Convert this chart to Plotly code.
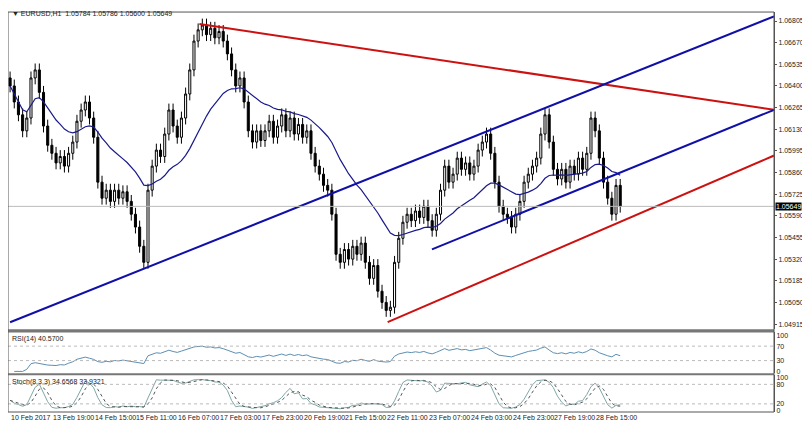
import numpy as np, pandas as pd
import plotly.graph_objects as go

closes = [1.0640,1.0630,1.0622,1.0612,1.0620,1.0645,1.0650,1.0636,1.0615,1.0603,
1.0598,1.0592,1.0596,1.0590,1.0598,1.0605,1.0618,1.0625,1.0630,1.0620,
1.0608,1.0580,1.0570,1.0575,1.0568,1.0575,1.0570,1.0574,1.0568,1.0560,
1.0552,1.0540,1.0530,1.0575,1.0590,1.0600,1.0596,1.0610,1.0625,1.0615,
1.0608,1.0620,1.0635,1.0650,1.0668,1.0675,1.0678,1.0672,1.0676,1.0670,
1.0674,1.0668,1.0660,1.0650,1.0640,1.0645,1.0630,1.0612,1.0605,1.0612,
1.0606,1.0612,1.0618,1.0608,1.0615,1.0622,1.0612,1.0620,1.0610,1.0616,
1.0608,1.0612,1.0598,1.0590,1.0585,1.0578,1.0575,1.0560,1.0535,1.0530,
1.0538,1.0532,1.0540,1.0535,1.0542,1.0530,1.0520,1.0528,1.0512,1.0505,
1.0500,1.0502,1.0530,1.0545,1.0555,1.0560,1.0556,1.0562,1.0558,1.0565,
1.0556,1.0550,1.0560,1.0575,1.0590,1.0580,1.0585,1.0595,1.0588,1.0592,
1.0585,1.0590,1.0600,1.0605,1.0610,1.0598,1.0580,1.0565,1.0560,1.0558,
1.0552,1.0560,1.0568,1.0580,1.0585,1.0590,1.0595,1.0610,1.0622,1.0605,
1.0588,1.0582,1.0588,1.0580,1.0590,1.0585,1.0595,1.0588,1.0598,1.0620,
1.0612,1.0595,1.0580,1.0570,1.0560,1.0578,1.0565]
first_open = 1.0645
wick = 0.0004
hours = [2 * i for i in range(len(closes))]

tick_hours = [0, 20, 40, 60, 80, 100, 120, 140, 160, 180, 200, 220, 240, 260, 280]
tick_labels = ["10 Feb 2017", "13 Feb 19:00", "14 Feb 15:00", "15 Feb 11:00", "16 Feb 07:00",
               "17 Feb 03:00", "17 Feb 23:00", "20 Feb 19:00", "21 Feb 15:00", "22 Feb 11:00",
               "23 Feb 07:00", "24 Feb 03:00", "24 Feb 23:00", "27 Feb 19:00", "28 Feb 15:00"]
price_ticks = [1.04915 + 0.00135 * k for k in range(15)]

red_top = ([90.6, 365.6], [1.06786, 1.06251])
red_bottom = ([180.7, 365.6], [1.04927, 1.05966])
blue_big = ([0, 365.6], [1.04926, 1.06834])
blue_mid = ([201.9, 365.6], [1.05381, 1.06251])

c = pd.Series(closes)
o = pd.Series([first_open] + closes[:-1])
h = np.maximum(o, c) + wick
l = np.minimum(o, c) - wick
ma = c.ewm(span=25, adjust=True).mean()
d = c.diff()
up = d.clip(lower=0).ewm(alpha=1/14, adjust=False).mean()
dn = (-d.clip(upper=0)).ewm(alpha=1/14, adjust=False).mean()
rsi = 100 - 100 / (1 + up / dn)
ll = pd.Series(l).rolling(8, min_periods=1).min()
hh = pd.Series(h).rolling(8, min_periods=1).max()
k = ((c - ll).rolling(3, min_periods=1).sum() / (hh - ll).rolling(3, min_periods=1).sum() * 100)
sig = k.rolling(3, min_periods=1).mean()

F = "Liberation Sans"
fig = go.Figure()
fig.add_trace(go.Candlestick(x=hours, open=o, high=h, low=l, close=c,
    increasing=dict(line=dict(color="black", width=1), fillcolor="white"),
    decreasing=dict(line=dict(color="black", width=1), fillcolor="black"),
    whiskerwidth=0, xaxis="x", yaxis="y"))
fig.add_trace(go.Scatter(x=hours, y=ma, mode="lines", line=dict(color="#1a1a8c", width=1.2)))
for (xs, ys), col in [(red_top, "#cc1111"), (red_bottom, "#cc1111"), (blue_big, "#1010a8"), (blue_mid, "#1010a8")]:
    fig.add_trace(go.Scatter(x=xs, y=ys, mode="lines", line=dict(color=col, width=2)))
fig.add_trace(go.Scatter(x=hours, y=rsi, mode="lines", line=dict(color="#5b8fb3", width=1), xaxis="x2", yaxis="y2"))
fig.add_trace(go.Scatter(x=hours, y=k, mode="lines", line=dict(color="#7fa6a6", width=1), xaxis="x3", yaxis="y3"))
fig.add_trace(go.Scatter(x=hours, y=sig, mode="lines", line=dict(color="#555555", width=1, dash="dot"), xaxis="x3", yaxis="y3"))

xr = [-1, 365.6]
ax = dict(range=xr, showgrid=False, zeroline=False, showticklabels=False, fixedrange=True,
          showline=False, rangeslider=dict(visible=False))
tf = dict(family=F, size=7, color="#222")
fig.update_layout(
    width=800, height=421, margin=dict(l=0, r=34, t=0, b=17),
    paper_bgcolor="white", plot_bgcolor="white", showlegend=False,
    xaxis=dict(ax, domain=[0, 1]),
    xaxis2=dict(ax, anchor="y2"),
    xaxis3=dict(ax, anchor="y3"),
    yaxis=dict(domain=[0.205, 0.99], range=[1.04883, 1.06861], side="right", tickvals=price_ticks,
               ticktext=[f"{v:.5f}" for v in price_ticks], tickfont=tf, showgrid=False, zeroline=False,
               ticks="outside", ticklen=2, tickcolor="#555", showline=True, linecolor="#555", mirror=False),
    yaxis2=dict(domain=[0.096, 0.197], range=[-5, 108], side="right", tickvals=[0, 30, 70, 100],
                tickfont=tf, showgrid=False, zeroline=False, showline=True, linecolor="#555"),
    yaxis3=dict(domain=[0, 0.091], range=[-5, 108], side="right", tickvals=[0, 20, 80, 100],
                tickfont=tf, showgrid=False, zeroline=False, showline=True, linecolor="#555"),
)
for yv, ya in [(30, "y2"), (70, "y2"), (20, "y3"), (80, "y3")]:
    fig.add_shape(type="line", xref="paper", x0=0, x1=1, yref=ya, y0=yv, y1=yv,
                  line=dict(color="#bbbbbb", width=1, dash="dot"))
for y0, y1 in [(0.197, 0.205), (0.091, 0.096)]:
    fig.add_shape(type="rect", xref="paper", x0=0, x1=1, yref="paper", y0=y0, y1=y1,
                  fillcolor="#777", line=dict(width=0))
fig.add_shape(type="line", xref="paper", x0=0, x1=1, yref="y", y0=closes[-1] - 0.00001, y1=closes[-1] - 0.00001,
              line=dict(color="#bbbbbb", width=1))
fig.add_shape(type="rect", xref="paper", x0=0, x1=1, yref="paper", y0=0, y1=0.99,
              line=dict(color="#555", width=1))
fig.add_annotation(xref="paper", x=1.0, yref="y", y=1.05649, text="1.05649", showarrow=False,
                   xanchor="left", xshift=1, bgcolor="black", borderpad=0, font=dict(family=F, size=7, color="white"))
fig.add_annotation(xref="paper", x=0.003, yref="paper", y=1.0, text="▼ EURUSD,H1  1.05784 1.05786 1.05600 1.05649",
                   showarrow=False, xanchor="left", yanchor="top", font=tf)
fig.add_annotation(xref="paper", x=0.003, yref="paper", y=0.195, text="RSI(14) 40.5700",
                   showarrow=False, xanchor="left", yanchor="top", font=tf)
fig.add_annotation(xref="paper", x=0.003, yref="paper", y=0.089, text="Stoch(8,3,3) 34.6568 33.9321",
                   showarrow=False, xanchor="left", yanchor="top", font=tf)
for th, tl in zip(tick_hours, tick_labels):
    fig.add_annotation(xref="x3", x=th, yref="paper", y=0, yshift=-1, text=tl, showarrow=False,
                       xanchor="left", yanchor="top", borderpad=0, font=tf)
fig.write_html("out.html")
